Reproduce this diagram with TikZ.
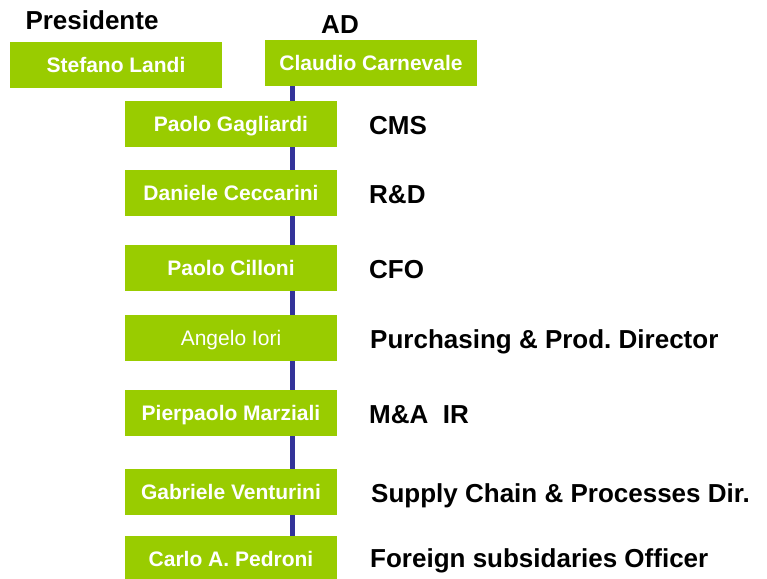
\documentclass[tikz,border=0pt]{standalone}
\usepackage{fontspec}
\setmainfont{Liberation Sans}

\definecolor{vert}{HTML}{99CC00}
\definecolor{bleu}{HTML}{333399}

\tikzset{
  boite/.style={fill=vert, text=white, minimum width=212pt, minimum height=46pt,
    inner sep=0pt, text height=15pt, text depth=0pt,
    font=\fontsize{21}{25}\selectfont\bfseries},
  titre/.style={inner sep=0pt, font=\fontsize{26}{31}\selectfont\bfseries},
  role/.style={titre, anchor=base west},
  tronc/.style={bleu, line width=5pt}
}

\begin{document}
\begin{tikzpicture}[x=1pt,y=-1pt]

\useasboundingbox (0,0) rectangle (767,578) ;

% en-tête

\node[titre] (t_pres) at (92,20) {Presidente} ;
\node[titre] (t_ad) at (340,25) {AD} ;

\node[boite] (landi) at (116,65) {Stefano Landi} ;
\node[boite] (carnevale) at (371,63) {Claudio Carnevale} ;

% colonne des directeurs

\node[boite] (gagliardi) at (231,124) {Paolo Gagliardi} ;
\node[boite] (ceccarini) at (231,193) {Daniele Ceccarini} ;
\node[boite] (cilloni) at (231,268) {Paolo Cilloni} ;
\node[boite,font=\fontsize{21}{25}\selectfont] (iori) at (231,338) {Angelo Iori} ;
\node[boite] (marziali) at (231,413) {Pierpaolo Marziali} ;
\node[boite] (venturini) at (231,492) {Gabriele Venturini} ;
\node[boite] (pedroni) at (231,559) {Carlo A.\ Pedroni} ;

% fonctions

\node[role] (r_cms) at (369,134) {CMS} ;
\node[role] (r_rd) at (369,203) {R\&D} ;
\node[role] (r_cfo) at (369,278) {CFO} ;
\node[role] (r_achats) at (370,348) {Purchasing \& Prod.\ Director} ;
\node[role] (r_ma) at (369,423) {M\&A\ \ IR} ;
\node[role] (r_supply) at (371,502) {Supply Chain \& Processes Dir.} ;
\node[role] (r_foreign) at (370,567) {Foreign subsidaries Officer} ;

% tronc vertical

\coordinate (spine) at (292.5,0) ;

\foreach \a/\b in {carnevale/gagliardi, gagliardi/ceccarini, ceccarini/cilloni,
  cilloni/iori, iori/marziali, marziali/venturini, venturini/pedroni}
  \draw[tronc] (spine |- \a.south) -- (spine |- \b.north) ;

\end{tikzpicture}
\end{document}
